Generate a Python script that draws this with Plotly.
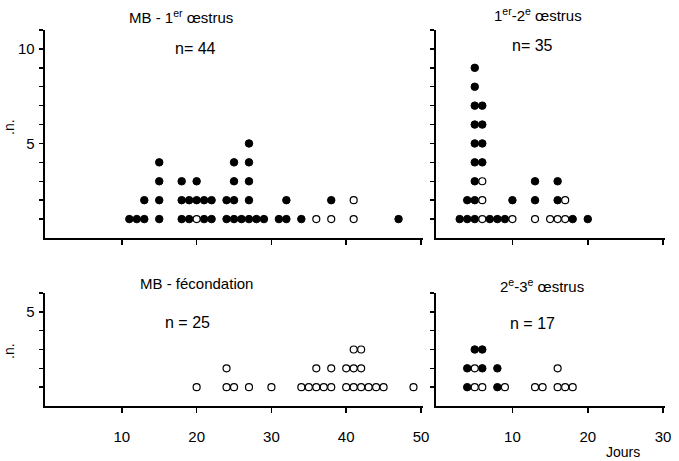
import plotly.graph_objects as go

W, H = 679, 461

# Each stack lists the dots of one day from bottom to top: F = filled (black), O = open (white)
p1_days = [11, 12, 13, 15, 18, 19, 20, 21, 22, 24, 25, 26, 27, 28, 29, 31, 32, 34, 36, 38, 41, 47]
p1_stacks = ["F", "F", "FF", "FFFF", "FFF", "FF", "OFF", "FF", "FF", "FF", "FFFF", "F",
             "FFFFF", "F", "F", "F", "FF", "F", "O", "OF", "OO", "F"]

p2_days = [3, 4, 5, 6, 7, 8, 9, 10, 13, 15, 16, 17, 18, 20]
p2_stacks = ["F", "FF", "FFFFFFFFF", "OOOFFFF", "F", "F", "F", "OF", "OFF", "O", "OFF", "OO", "F", "F"]

p3_days = [20, 24, 25, 27, 30, 34, 35, 36, 37, 38, 40, 41, 42, 43, 44, 45, 49]
p3_stacks = ["O", "OO", "O", "O", "O", "O", "O", "OO", "O", "OO", "OO", "OOO", "OOO", "O", "O", "O", "O"]

p4_days = [4, 5, 6, 8, 9, 13, 14, 16, 17, 18]
p4_stacks = ["FF", "OOF", "OFF", "FF", "O", "O", "O", "OO", "O", "O"]

panel_titles = ["MB - 1<sup>er</sup> œstrus", "1<sup>er</sup>-2<sup>e</sup> œstrus",
                "MB - fécondation", "2<sup>e</sup>-3<sup>e</sup> œstrus"]
panel_n = ["n= 44", "n= 35", "n = 25", "n = 17"]

x_ticks_left = [10, 20, 30, 40, 50]
x_ticks_right = [10, 20, 30]

FONT = "Liberation Sans"

def px_x(p):
    return p / W

def px_y(p):
    return 1 - p / H

fig = go.Figure()

panels = [
    (p1_days, p1_stacks, "x", "y"),
    (p2_days, p2_stacks, "x2", "y2"),
    (p3_days, p3_stacks, "x3", "y3"),
    (p4_days, p4_stacks, "x4", "y4"),
]

for days, stacks, xa, ya in panels:
    fx, fy, ox, oy = [], [], [], []
    for d, s in zip(days, stacks):
        for lvl, c in enumerate(s, start=1):
            if c == "F":
                fx.append(d); fy.append(lvl)
            else:
                ox.append(d); oy.append(lvl)
    fig.add_trace(go.Scatter(x=fx, y=fy, xaxis=xa, yaxis=ya, mode="markers",
                             marker=dict(size=7.5, color="black", line=dict(color="black", width=1)),
                             showlegend=False, cliponaxis=False, hoverinfo="skip"))
    fig.add_trace(go.Scatter(x=ox, y=oy, xaxis=xa, yaxis=ya, mode="markers",
                             marker=dict(size=7, color="white", line=dict(color="black", width=1.2)),
                             showlegend=False, cliponaxis=False, hoverinfo="skip"))

axis_common = dict(showline=True, linecolor="black", linewidth=2, showgrid=False, zeroline=False,
                   ticks="outside", tickcolor="black", tickwidth=1.5, fixedrange=True,
                   ticklabeloverflow="allow",
                   tickfont=dict(family=FONT, size=15, color="black"))

def xaxis(domain, rng, ticks, anchor, labels):
    d = dict(axis_common)
    d.update(domain=domain, range=rng, anchor=anchor, tickmode="array", tickvals=ticks,
             ticktext=[str(t) if labels else "" for t in ticks], ticklen=5,
             ticklabelstandoff=11)
    return d

def yaxis(domain, rng, ticks, labels, anchor):
    d = dict(axis_common)
    d.update(domain=domain, range=rng, anchor=anchor, tickmode="array", tickvals=ticks,
             ticktext=[(str(t) if (labels and t % 5 == 0) else "") for t in ticks], ticklen=4,
             ticklabelstandoff=1)
    return d

top_dom = [px_y(238), px_y(30)]
bot_dom = [px_y(406), px_y(293)]
left_dom = [px_x(45), px_x(427)]
right_dom = [px_x(440), px_x(671)]

fig.update_layout(
    width=W, height=H, margin=dict(l=0, r=0, t=0, b=0),
    paper_bgcolor="white", plot_bgcolor="white",
    font=dict(family=FONT, color="black"),
    xaxis=xaxis(left_dom, [-0.33, 50.3], x_ticks_left, "y", False),
    yaxis=yaxis(top_dom, [0, 11], list(range(1, 12)), True, "x"),
    xaxis2=xaxis(right_dom, [-0.13, 30.26], x_ticks_right, "y2", False),
    yaxis2=yaxis(top_dom, [0, 11], list(range(1, 12)), False, "x2"),
    xaxis3=xaxis(left_dom, [-0.33, 50.3], x_ticks_left, "y3", True),
    yaxis3=yaxis(bot_dom, [0, 6], list(range(1, 7)), True, "x3"),
    xaxis4=xaxis(right_dom, [-0.13, 30.26], x_ticks_right, "y4", True),
    yaxis4=yaxis(bot_dom, [0, 6], list(range(1, 7)), False, "x4"),
)

ann = []
title_pos = [(183, 16), (543, 14), (198, 283), (547, 285)]
n_pos = [(197, 48), (537, 45), (189, 322), (537, 323)]
for t, (x, y) in zip(panel_titles, title_pos):
    ann.append(dict(text=t, x=px_x(x), y=px_y(y), xref="paper", yref="paper", showarrow=False,
                    xanchor="center", yanchor="middle", font=dict(family=FONT, size=15, color="black")))
for t, (x, y) in zip(panel_n, n_pos):
    ann.append(dict(text=t, x=px_x(x), y=px_y(y), xref="paper", yref="paper", showarrow=False,
                    xanchor="center", yanchor="middle", font=dict(family=FONT, size=16, color="black")))
for y in (127, 351):
    ann.append(dict(text=".n.", x=px_x(9), y=px_y(y), xref="paper", yref="paper", showarrow=False,
                    textangle=-90, xanchor="center", yanchor="middle",
                    font=dict(family=FONT, size=14, color="black")))
ann.append(dict(text="Jours", x=px_x(629), y=px_y(452), xref="paper", yref="paper", showarrow=False,
                xanchor="center", yanchor="middle", font=dict(family=FONT, size=14, color="black")))
fig.update_layout(annotations=ann)

fig.write_html("out.html", config={"displayModeBar": False, "staticPlot": True})

# remove the default page margin so the figure sits at the window's top-left corner
with open("out.html", "r", encoding="utf-8") as f:
    html = f.read()
html = html.replace("<body>", '<body style="margin:0;overflow:hidden">', 1)
with open("out.html", "w", encoding="utf-8") as f:
    f.write(html)
